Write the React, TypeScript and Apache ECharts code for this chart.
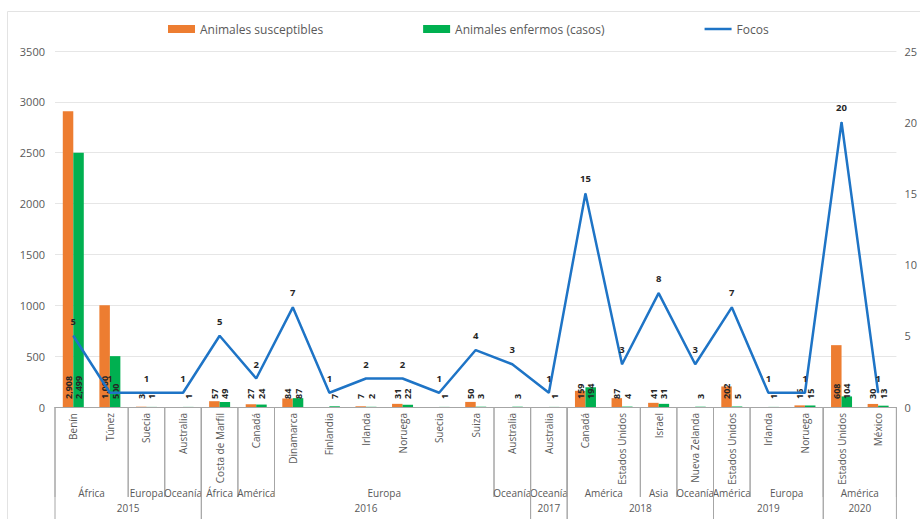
import React, { useEffect, useRef } from 'react';
import * as echarts from 'echarts';

const countries = ['Benín', 'Túnez', 'Suecia', 'Australia', 'Costa de Marfil', 'Canadá', 'Dinamarca', 'Finlandia', 'Irlanda', 'Noruega', 'Suecia', 'Suiza', 'Australia', 'Australia', 'Canadá', 'Estados Unidos', 'Israel', 'Nueva Zelanda', 'Estados Unidos', 'Irlanda', 'Noruega', 'Estados Unidos', 'México'];
const regions = ['África', 'África', 'Europa', 'Oceanía', 'África', 'América', 'Europa', 'Europa', 'Europa', 'Europa', 'Europa', 'Europa', 'Oceanía', 'Oceanía', 'América', 'América', 'Asia', 'Oceanía', 'América', 'Europa', 'Europa', 'América', 'América'];
const years = ['2015', '2015', '2015', '2015', '2016', '2016', '2016', '2016', '2016', '2016', '2016', '2016', '2016', '2017', '2018', '2018', '2018', '2018', '2019', '2019', '2019', '2020', '2020'];

const susceptibles = [2908, 1000, 3, null, 57, 27, 84, null, 7, 31, null, 50, null, null, 159, 87, 41, null, 202, null, 16, 608, 30];
const enfermos = [2499, 500, 1, 1, 49, 24, 87, 7, 2, 22, 1, 3, 3, 1, 194, 4, 31, 3, 5, 1, 15, 104, 13];
const focos = [5, 1, 1, 1, 5, 2, 7, 1, 2, 2, 1, 4, 3, 1, 15, 3, 8, 3, 7, 1, 1, 20, 1];

const FONT = '"Open Sans", "Noto Sans", sans-serif';
const BLUE = '#1E74C6';

type Run = { start: number; end: number; label: string; level: number };

function runs(keys: string[], labels: string[], level: number): Run[] {
  const out: Run[] = [];
  keys.forEach((k, i) => {
    const last = out[out.length - 1];
    if (last && keys[last.end] === k) last.end = i;
    else out.push({ start: i, end: i, label: labels[i], level });
  });
  return out;
}

export default function App() {
  const ref = useRef<HTMLDivElement>(null);
  useEffect(() => {
    if (!ref.current) return;
    const chart = echarts.init(ref.current, undefined, { renderer: 'svg' });
    const regionRuns = runs(regions.map((r, i) => years[i] + '|' + r), regions, 0);
    const yearRuns = runs(years, years, 1);
    const groups = [...regionRuns, ...yearRuns];
    const barLabel = {
      show: true,
      position: 'insideBottom',
      rotate: 90,
      align: 'left',
      verticalAlign: 'middle',
      distance: 8,
      fontSize: 9,
      fontWeight: 'bold',
      color: '#262626',
      fontFamily: FONT,
      formatter: (p: any) => (p.value == null ? '' : Number(p.value).toLocaleString('en-US')),
    };
    chart.setOption({
      animation: false,
      textStyle: { fontFamily: FONT },
      graphic: [
        {
          type: 'rect',
          shape: { x: 7.5, y: 11.5, width: 930, height: 530 },
          style: { fill: 'none', stroke: '#e3e3e3', lineWidth: 1 },
          silent: true,
        },
      ],
      legend: {
        top: 18,
        left: 163,
        itemWidth: 27,
        itemHeight: 8,
        itemGap: 100,
        textStyle: { color: '#595959', fontSize: 12, fontFamily: FONT },
        data: [
          { name: 'Animales susceptibles', icon: 'rect' },
          { name: 'Animales enfermos (casos)', icon: 'rect' },
          { name: 'Focos', icon: 'path://M0,0L27,0L27,2.5L0,2.5Z' },
        ],
      },
      grid: { left: 55, right: 22, top: 51, bottom: 112, containLabel: false },
      xAxis: {
        type: 'category',
        data: countries.map((c, i) => c + '|' + years[i]),
        axisLine: { show: true, lineStyle: { color: '#a6a6a6', width: 1 } },
        axisTick: { show: false },
        axisLabel: {
          interval: 0,
          rotate: 90,
          margin: 6,
          fontSize: 10,
          color: '#595959',
          fontFamily: FONT,
          formatter: (v: string) => v.split('|')[0],
        },
      },
      yAxis: [
        {
          type: 'value',
          min: 0,
          max: 3500,
          interval: 500,
          axisLine: { show: false },
          axisTick: { show: false },
          axisLabel: { color: '#595959', fontSize: 11, margin: 10, fontFamily: FONT, formatter: (v: number) => String(v) },
          splitLine: { lineStyle: { color: '#e6e6e6', width: 1 } },
        },
        {
          type: 'value',
          min: 0,
          max: 25,
          interval: 5,
          axisLine: { show: false },
          axisTick: { show: false },
          axisLabel: { color: '#595959', fontSize: 11, margin: 8, fontFamily: FONT },
          splitLine: { show: false },
        },
      ],
      series: [
        {
          name: 'Animales susceptibles',
          type: 'bar',
          data: susceptibles,
          barWidth: 10.5,
          barGap: '0%',
          itemStyle: { color: '#ED7D31' },
          label: barLabel,
          z: 2,
        },
        {
          name: 'Animales enfermos (casos)',
          type: 'bar',
          data: enfermos,
          barWidth: 10.5,
          barGap: '0%',
          itemStyle: { color: '#00B050' },
          label: barLabel,
          z: 2,
        },
        {
          name: 'Focos',
          type: 'line',
          yAxisIndex: 1,
          data: focos,
          symbol: 'circle',
          symbolSize: 1,
          lineStyle: { color: BLUE, width: 2.5 },
          itemStyle: { color: BLUE },
          label: {
            show: true,
            position: 'top',
            distance: 9,
            fontSize: 9.5,
            fontWeight: 'bold',
            color: '#262626',
            fontFamily: FONT,
          },
          z: 3,
        },
        {
          type: 'custom',
          silent: true,
          clip: false,
          data: groups.map((g) => [g.start, g.end, 0]),
          encode: { x: 0, y: 2 },
          renderItem: (params: any, api: any) => {
            const g = groups[params.dataIndex];
            const w = api.size([1, 0])[0];
            const p0 = api.coord([g.start, 0]);
            const p1 = api.coord([g.end, 0]);
            const left = p0[0] - w / 2;
            const right = p1[0] + w / 2;
            const base = p0[1];
            const len = g.level === 0 ? 90 : 112;
            const ty = g.level === 0 ? 86 : 101;
            const lineStyle = { stroke: '#a6a6a6', lineWidth: 1 };
            return {
              type: 'group',
              children: [
                { type: 'line', shape: { x1: left, y1: base, x2: left, y2: base + len }, style: lineStyle },
                { type: 'line', shape: { x1: right, y1: base, x2: right, y2: base + len }, style: lineStyle },
                {
                  type: 'text',
                  style: {
                    text: g.label,
                    x: (left + right) / 2,
                    y: base + ty,
                    align: 'center',
                    verticalAlign: 'middle',
                    fill: '#595959',
                    font: '10px ' + FONT,
                  },
                },
              ],
            };
          },
          z: 1,
        },
      ],
    });
    return () => chart.dispose();
  }, []);
  return (
    <div
      ref={ref}
      style={{ position: 'absolute', left: 0, top: 0, width: 920, height: 519, background: '#fff' }}
    />
  );
}
